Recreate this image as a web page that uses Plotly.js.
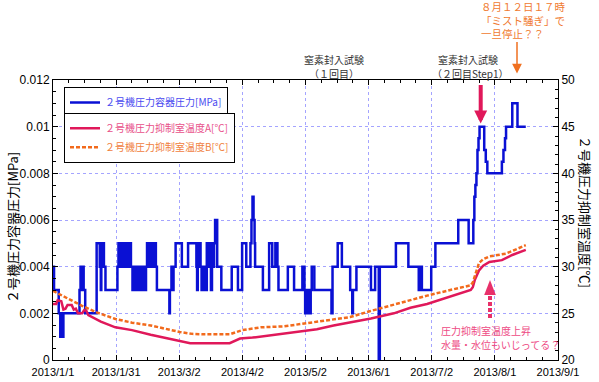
<!DOCTYPE html>
<html>
<head>
<meta charset="utf-8">
<script src="https://cdn.plot.ly/plotly-3.0.1.min.js"></script>
<style>
html,body{margin:0;padding:0;background:#fff;}
#chart{width:599px;height:382px;}
</style>
</head>
<body>
<div id="chart"></div>
<script>
// ---- Data ----
const xTickText = ['2013/1/1','2013/1/31','2013/3/2','2013/4/2','2013/5/2','2013/6/1','2013/7/2','2013/8/1','2013/9/1'];

const pressureDates = [
'2013-01-01 00:00','2013-01-01 12:00','2013-01-03 18:00','2013-01-04 12:00','2013-01-05 00:00','2013-01-05 12:00','2013-01-06 00:00',
'2013-01-13 18:00','2013-01-14 06:00','2013-01-14 18:00','2013-01-15 06:00','2013-01-15 18:00','2013-01-16 12:00',
'2013-01-22 00:00','2013-01-23 12:00','2013-01-24 00:00','2013-01-24 06:00','2013-01-24 12:00','2013-01-25 12:00','2013-01-26 06:00',
'2013-02-01 00:00','2013-02-01 12:00','2013-02-02 00:00','2013-02-02 12:00','2013-02-03 00:00','2013-02-03 12:00','2013-02-04 06:00',
'2013-02-04 18:00','2013-02-05 12:00','2013-02-06 00:00','2013-02-06 12:00','2013-02-07 00:00','2013-02-07 12:00','2013-02-08 06:00',
'2013-02-08 18:00','2013-02-09 12:00','2013-02-10 00:00','2013-02-10 12:00','2013-02-11 06:00','2013-02-12 00:00','2013-02-12 12:00',
'2013-02-13 06:00','2013-02-13 18:00','2013-02-14 06:00','2013-02-14 18:00','2013-02-15 06:00','2013-02-16 00:00','2013-02-16 12:00',
'2013-02-17 06:00','2013-02-18 00:00','2013-02-18 12:00','2013-02-19 00:00','2013-02-19 12:00','2013-02-20 00:00','2013-02-26 00:00',
'2013-02-26 06:00','2013-02-27 00:00','2013-02-27 12:00','2013-02-28 00:00','2013-03-01 00:00','2013-03-04 00:00','2013-03-07 00:00',
'2013-03-11 00:00','2013-03-11 08:00','2013-03-11 16:00','2013-03-12 00:00','2013-03-13 00:00','2013-03-13 12:00','2013-03-14 00:00',
'2013-03-14 12:00','2013-03-15 00:00','2013-03-15 12:00','2013-03-16 00:00','2013-03-17 00:00','2013-03-17 08:00','2013-03-18 00:00',
'2013-03-18 12:00','2013-03-19 00:00','2013-03-19 12:00','2013-03-20 00:00','2013-03-21 00:00','2013-03-23 00:00','2013-03-28 00:00',
'2013-03-31 00:00','2013-04-02 00:00','2013-04-04 00:00','2013-04-06 00:00','2013-04-06 12:00','2013-04-07 00:00','2013-04-07 12:00',
'2013-04-08 00:00','2013-04-08 06:00','2013-04-12 00:00','2013-04-15 00:00','2013-04-16 12:00','2013-04-18 00:00','2013-04-19 00:00',
'2013-04-19 12:00','2013-04-24 00:00','2013-04-27 00:00','2013-05-01 00:00','2013-05-02 00:00','2013-05-02 08:00','2013-05-03 00:00',
'2013-05-03 08:00','2013-05-04 00:00','2013-05-04 08:00','2013-05-05 00:00','2013-05-05 12:00','2013-05-06 18:00','2013-05-15 00:00',
'2013-05-15 12:00','2013-05-18 00:00','2013-05-20 00:00','2013-05-24 00:00','2013-05-25 00:00','2013-05-25 08:00','2013-05-27 00:00',
'2013-06-03 00:00','2013-06-05 00:00','2013-06-06 18:00','2013-06-07 06:00','2013-06-15 00:00','2013-06-21 00:00','2013-06-26 00:00',
'2013-06-27 00:00','2013-06-27 12:00','2013-07-02 00:00','2013-07-04 00:00','2013-07-15 00:00','2013-07-20 00:00','2013-07-22 06:00',
'2013-07-22 18:00','2013-07-23 06:00','2013-07-23 18:00','2013-07-24 06:00','2013-07-24 18:00','2013-07-25 06:00','2013-07-27 12:00',
'2013-07-28 06:00','2013-07-29 00:00','2013-08-05 00:00','2013-08-05 18:00','2013-08-06 12:00','2013-08-07 00:00','2013-08-10 00:00',
'2013-08-12 12:00','2013-08-16 12:00'
];
const pressureVals = [
0.004,0.003,0.002,0.001,0.002,0.001,0.002,
0.003,0.004,0.003,0.004,0.003,0.002,
0.005,0.004,0.003,0.004,0.005,0.004,0.003,
0.004,0.005,0.004,0.005,0.004,0.005,0.004,
0.005,0.004,0.005,0.004,0.005,0.004,0.003,
0.004,0.003,0.004,0.003,0.004,0.003,0.004,
0.003,0.004,0.003,0.004,0.005,0.004,0.005,
0.004,0.005,0.004,0.005,0.004,0.003,0.002,
0.003,0.004,0.003,0.004,0.005,0.004,0.005,
0.004,0.003,0.004,0.005,0.004,0.003,0.004,
0.003,0.004,0.003,0.005,0.004,0.005,0.003,
0.005,0.004,0.005,0.006,0.004,0.003,0.004,
0.003,0.005,0.004,0.005,0.006,0.007,0.006,
0.005,0.004,0.003,0.005,0.004,0.005,0.004,
0.003,0.004,0.003,0.004,0.003,0.002,0.003,
0.002,0.003,0.002,0.003,0.004,0.003,0.002,
0.004,0.005,0.004,0.003,0.002,0.003,0.004,
0.003,0.004,0,0.004,0.005,0.004,0.003,
0.004,0.003,0.004,0.005,0.006,0.005,0.006,
0.007,0.0075,0.008,0.009,0.0095,0.01,0.009,
0.0085,0.008,0.0085,0.009,0.0095,0.01,0.011,
0.01,0.01
];

const tempADates = ['2013-01-01','2013-01-02 12:00','2013-01-03 06:00','2013-01-05','2013-01-06','2013-01-07','2013-01-08','2013-01-10',
'2013-01-11','2013-01-12','2013-01-13','2013-01-15','2013-01-16','2013-01-17','2013-01-18','2013-01-24','2013-01-31','2013-02-08',
'2013-02-17','2013-03-01','2013-03-08','2013-03-27','2013-03-29','2013-04-01','2013-04-07','2013-04-14','2013-04-22','2013-04-30',
'2013-05-08','2013-05-16','2013-05-24','2013-06-03','2013-06-14','2013-06-22','2013-06-30','2013-07-08','2013-07-15','2013-07-21',
'2013-07-22','2013-07-23','2013-07-25','2013-07-27','2013-07-30','2013-08-05','2013-08-10','2013-08-16 12:00'];
const tempAVals = [26.0,26.0,26.4,26.3,25.4,25.5,25.9,25.9,
25.4,25.5,25.0,25.0,25.35,25.3,24.8,24.1,23.5,23.2,
22.7,22.1,21.8,21.8,22.0,22.3,22.4,22.6,22.8,23.1,
23.3,23.7,24.0,24.45,25.0,25.6,26.0,26.6,27.1,27.5,
27.8,28.6,29.6,30.1,30.5,30.7,31.25,31.8];

const tempBDates = ['2013-01-01','2013-01-08','2013-01-15','2013-01-22','2013-01-31','2013-02-08','2013-02-17','2013-02-24',
'2013-03-03','2013-03-09','2013-03-15','2013-03-27','2013-04-02','2013-04-11','2013-04-22','2013-04-30','2013-05-08','2013-05-16',
'2013-05-24','2013-06-02','2013-06-15','2013-06-30','2013-07-15','2013-07-21','2013-07-22','2013-07-23','2013-07-24','2013-07-25',
'2013-07-27','2013-07-30','2013-08-07','2013-08-13','2013-08-16 12:00'];
const tempBVals = [27.4,26.6,25.8,25.1,24.4,24.0,23.7,23.35,
23.0,22.8,22.75,22.75,23.2,23.5,23.6,23.85,24.1,24.35,
24.6,25.2,26.0,26.9,27.7,28.0,28.3,29.1,29.9,30.4,
30.8,31.1,31.4,32.0,32.3];

// ---- Layout helpers ----
const L = 53, R = 558, T = 80, B = 360;
const PX = x => (x - L) / (R - L);
const PY = y => (B - y) / (B - T);
const start = Date.UTC(2013,0,1), end = Date.UTC(2013,8,1);
const step = (end - start) / 8;
const tickVals = xTickText.map((_, i) => start + i * step);
const minorVals = [];
for (let i = 0; i <= 32; i++) minorVals.push(start + i * step / 4);

const jp = '"Noto Sans CJK JP", sans-serif';
const blue = '#0a10d4', crimson = '#e0185a', orange = '#f26a1c';

const traces = [
  {x: pressureDates, y: pressureVals, type:'scatter', mode:'lines', line:{shape:'hv', color:blue, width:2.5},
   name:'<span style="color:#4a4af0">２号機圧力容器圧力[MPa]</span>', legend:'legend', yaxis:'y'},
  {x: tempADates, y: tempAVals, type:'scatter', mode:'lines', line:{color:crimson, width:2.5},
   name:'<span style="color:#e8508a">２号機圧力抑制室温度A[℃]</span>', legend:'legend2', yaxis:'y2'},
  {x: tempBDates, y: tempBVals, type:'scatter', mode:'lines', line:{color:orange, width:2.5, dash:'4px,2px'},
   name:'<span style="color:#f08040">２号機圧力抑制室温度B[℃]</span>', legend:'legend2', yaxis:'y2'}
];

const grid = '#a4a4ff';
const annFont = (size, color) => ({family: jp, size: size, color: color});
const txt = (text, x, y, size, color, xanchor, align) => ({text, xref:'paper', yref:'paper', x:PX(x), y:PY(y),
  showarrow:false, font: annFont(size, color), xanchor: xanchor || 'center', yanchor:'middle', borderpad:0,
  align: align || 'center'});

const annotations = [
  Object.assign(txt('２号機圧力容器圧力[MPa]', 12, 228, 13, '#000'), {textangle:-90}),
  Object.assign(txt('２号機圧力抑制室温度[℃]', 586, 212, 13, '#000'), {textangle:90}),
  txt('窒素封入試験', 334, 59.5, 10, '#333'),
  txt('（１回目）', 334, 73.5, 10, '#333'),
  txt('窒素封入試験', 467.5, 59.5, 10, '#333'),
  txt('（２回目Step1）', 470, 73.5, 10, '#333'),
  txt('８月１２日１７時<br>「ミスト騒ぎ」で<br>一旦停止？？', 480, 19.5, 10.5, '#f07a30', 'left', 'left'),
  txt('圧力抑制室温度上昇', 440, 330, 10, '#ee4a84', 'left'),
  txt('水量・水位もいじってる？', 440, 344, 10, '#ee4a84', 'left'),
  {text:'', xref:'paper', yref:'paper', x:PX(517), y:PY(73.5), ax:0, ay:-33, showarrow:true,
   arrowcolor:'#f07020', arrowwidth:1.5, arrowhead:2, arrowsize:1.3, standoff:0},
  {text:'', xref:'paper', yref:'paper', x:PX(480.7), y:PY(123.5), ax:0, ay:-40, showarrow:true,
   arrowcolor:crimson, arrowwidth:4, arrowhead:2, arrowsize:0.65, standoff:0}
];

const pink = '#e8306a';
const shapes = [
  {type:'line', xref:'paper', yref:'paper', x0:PX(490), x1:PX(490), y0:PY(318), y1:PY(294),
   line:{color:pink, width:4, dash:'4px,2px'}},
  {type:'path', xref:'paper', yref:'paper',
   path:`M ${PX(484.2)},${PY(295)} L ${PX(495.8)},${PY(295)} L ${PX(490)},${PY(280)} Z`,
   fillcolor:pink, line:{width:0}}
];

const layout = {
  width:599, height:382,
  margin:{l:L, r:599-R, t:T, b:382-B, pad:0},
  paper_bgcolor:'#fff', plot_bgcolor:'#fff',
  showlegend:true,
  font:{family:'"Liberation Sans", Arial, sans-serif', size:12, color:'#000'},
  xaxis:{type:'date', range:[start, end], tickmode:'array', tickvals:tickVals, ticktext:xTickText,
    ticks:'inside', ticklen:5, tickcolor:'#000', showline:true, linecolor:'#000', linewidth:1, mirror:'ticks',
    showgrid:true, gridcolor:grid, griddash:'dot', gridwidth:1, zeroline:false,
    tickfont:{size:11}, ticklabelstandoff:2,
    minor:{tickmode:'array', tickvals:minorVals, ticks:'inside', ticklen:3, tickcolor:'#000', showgrid:false}},
  yaxis:{range:[0,0.012], dtick:0.002, tick0:0, ticks:'inside', ticklen:5, tickcolor:'#000',
    showline:true, linecolor:'#000', linewidth:1, mirror:false,
    showgrid:true, gridcolor:grid, griddash:'dot', gridwidth:1, zeroline:false,
    tickfont:{size:12},
    minor:{dtick:0.0005, ticks:'inside', ticklen:3, tickcolor:'#000', showgrid:false}},
  yaxis2:{range:[20,50], dtick:5, tick0:20, overlaying:'y', side:'right', anchor:'x',
    ticks:'inside', ticklen:5, tickcolor:'#000', showline:true, linecolor:'#000', linewidth:1,
    showgrid:false, zeroline:false, tickfont:{size:12},
    minor:{dtick:1, ticks:'inside', ticklen:3, tickcolor:'#000', showgrid:false}},
  legend:{x:PX(64), y:PY(87), xanchor:'left', yanchor:'top', bgcolor:'#fff', bordercolor:'#000', borderwidth:1,
    font:{family:jp, size:10}},
  legend2:{x:PX(64), y:PY(112.7), xanchor:'left', yanchor:'top', bgcolor:'#fff', bordercolor:'#000', borderwidth:1,
    font:{family:jp, size:10}},
  annotations, shapes
};

Plotly.newPlot('chart', traces, layout, {staticPlot:true, displayModeBar:false});
</script>
</body>
</html>
